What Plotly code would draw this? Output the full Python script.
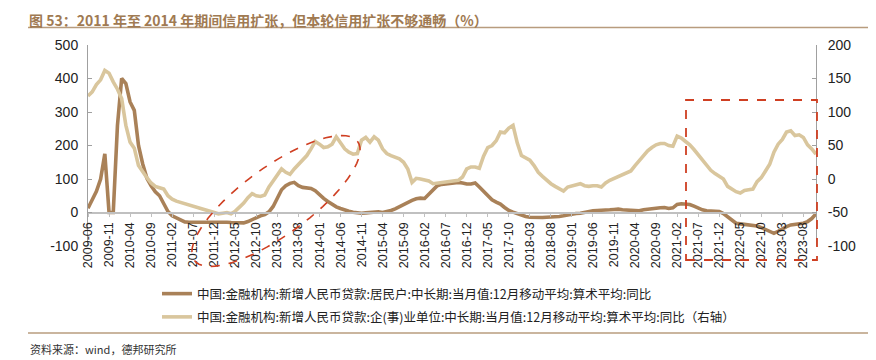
import math
import pandas as pd
import plotly.graph_objects as go

# ---------------- data ----------------
months = [p.strftime("%Y-%m") for p in pd.period_range("2009-06", "2023-11", freq="M")]

household = [
    13, 38, 63, 100, 175, 0, 0, 260, 400, 385,
    330, 305, 200, 145, 102, 80, 62, 50, 25, 3,
    -10, -17, -24, -28, -29, -29, -29, -29, -28, -27,
    -27, -27, -28, -29, -30, -31, -32, -31, -27, -21,
    -15, -10, -6, 2, 18, 45, 68, 80, 87, 90,
    80, 75, 73, 72, 65, 53, 42, 33, 24, 17,
    12, 7, 4, 1, -1, -2, -1, 0, 3, 2,
    0, 2, 6, 11, 18, 24, 30, 36, 41, 43,
    42, 55, 67, 80, 84, 86, 88, 89, 90, 88,
    85, 85, 88, 76, 63, 50, 38, 31, 25, 15,
    6, 1, -3, -9, -12, -14, -15, -15, -15, -14,
    -14, -13, -12, -10, -7, -4, -3, -2, 1, 4,
    5, 6, 6, 7, 8, 9, 10, 8, 7, 6,
    5, 5, 8, 10, 12, 13, 14, 15, 12, 14,
    24, 26, 26, 24, 19, 13, 8, 5, 4, 3,
    3, -3, -12, -24, -32, -34, -36, -38, -39, -40,
    -45, -50, -56, -62, -56, -48, -42, -37, -36, -34,
    -32, -27, -18, -4,
]

enterprise = [
    124, 130, 141, 148, 162, 158, 145, 134, 120, 80,
    55, 46, 20, 10, 2, -6, -11, -13, -15, -25,
    -30, -33, -35, -37, -38, -40, -43, -45, -47, -49,
    -51, -52, -51, -50, -52, -48, -42, -36, -28, -22,
    -25, -26, -24, -12, -3, 5, 15, 10, 7, 15,
    22, 28, 35, 45, 56, 52, 47, 48, 52, 63,
    55, 45, 40, 37, 38, 58, 62, 55, 63, 58,
    45, 38, 35, 32, 30, 25, 15, -5, 1, 0,
    -2, -3, -7, -6, -5, -4, -3, -3, -2, 3,
    15, 18, 18, 16, 34, 47, 50, 57, 70, 69,
    76, 80, 54, 35, 32, 28, 20, 10, 4, -2,
    -7, -11, -15, -18, -12, -10, -8, -7, -10, -11,
    -10, -10, -12, -6, -2, 1, 4, 7, 10, 12,
    20, 28, 34, 42, 47, 51, 53, 53, 50, 49,
    64, 61, 56, 51, 44, 36, 28, 19, 13, 8,
    4, 0, -11, -15, -19, -21, -17, -16, -15, -4,
    2, 12, 22, 40, 52, 59, 70, 72, 65, 66,
    62, 51, 45, 37,
]

tick_labels = months[::5]
left_ticks = [-100, 0, 100, 200, 300, 400, 500]
right_ticks = [-100, -50, 0, 50, 100, 150, 200]

name_household = "中国:金融机构:新增人民币贷款:居民户:中长期:当月值:12月移动平均:算术平均:同比"
name_enterprise = "中国:金融机构:新增人民币贷款:企(事)业单位:中长期:当月值:12月移动平均:算术平均:同比（右轴）"
title_text = "图 53：2011 年至 2014 年期间信用扩张，但本轮信用扩张不够通畅（%）"
source_text = "资料来源：wind，德邦研究所"

# ---------------- layout geometry ----------------
# the page body adds an 8px offset, so the figure is drawn 8px smaller and shifted
OFF = 8
W, H = 876 - OFF, 360 - OFF
L, T = 88 - OFF, 45 - OFF
R = W - (816 - OFF)
B = H - (246 - OFF)
PW, PH = W - L - R, H - T - B


def px2paper(x, y):
    """reference-screen pixels -> paper coordinates"""
    x, y = x - OFF, y - OFF
    return (x - L) / PW, (H - B - y) / PH


DARK = "#a98158"
LIGHT = "#d9c69d"
RED = "#cf3f22"

fig = go.Figure()
fig.add_trace(go.Scatter(
    x=months, y=household, name=name_household, mode="lines",
    line=dict(color=DARK, width=3.6), legendgroup="a", yaxis="y",
))
fig.add_trace(go.Scatter(
    x=months, y=enterprise, name=name_enterprise, mode="lines",
    line=dict(color=LIGHT, width=3.6), legendgroup="b", yaxis="y2",
))

# red dashed tilted ellipse
cx, cy, a, b, th = 276, 201, 101, 34, math.radians(36)
pts = []
for i in range(73):
    t = 2 * math.pi * i / 72
    x = cx + a * math.cos(t) * math.cos(th) + b * math.sin(t) * math.sin(th)
    y = cy - a * math.cos(t) * math.sin(th) + b * math.sin(t) * math.cos(th)
    px, py = px2paper(x, y)
    pts.append(f"{px:.5f},{py:.5f}")
path = "M" + " L".join(pts) + " Z"

x0, y0 = px2paper(686, 100)
x1, y1 = px2paper(817, 260)
tl_x0, tl_y = px2paper(28, 27.5)
tl_x1, _ = px2paper(868, 27.5)
_, sl_y = px2paper(0, 333)

shapes = [
    dict(type="path", path=path, xref="paper", yref="paper",
         line=dict(color=RED, width=1.6, dash="dash")),
    dict(type="rect", x0=x0, x1=x1, y0=y1, y1=y0, xref="paper", yref="paper",
         line=dict(color=RED, width=1.8, dash="dash")),
    dict(type="line", x0=tl_x0, x1=tl_x1, y0=tl_y, y1=tl_y, xref="paper", yref="paper",
         line=dict(color="#b89c7e", width=1.5)),
    dict(type="line", x0=tl_x0, x1=tl_x1, y0=sl_y, y1=sl_y, xref="paper", yref="paper",
         line=dict(color="#b89c7e", width=1.5)),
]

sx, sy = px2paper(28, 349)
tx, ty = px2paper(28, 8.5)
annotations = [
    dict(text=source_text, x=sx, y=sy, xref="paper", yref="paper", xanchor="left",
         yanchor="middle", showarrow=False,
         font=dict(family="Noto Sans CJK SC", size=11, color="#333333")),
    dict(text="<b>" + title_text + "</b>", x=tx, y=ty, xref="paper", yref="paper",
         xanchor="left", yanchor="top", showarrow=False, borderpad=0,
         font=dict(family="Noto Sans CJK SC", size=14, color="#a07a52")),
]

axis_font = dict(family="Liberation Sans, Arial", size=14, color="#222222")
lx, ly = px2paper(157, 279)

fig.update_layout(
    width=W, height=H,
    margin=dict(l=L, r=R, t=T, b=B),
    paper_bgcolor="white", plot_bgcolor="white",
    showlegend=True,
    legend=dict(x=lx, y=ly, xanchor="left", yanchor="top", orientation="v",
                font=dict(family="Noto Sans CJK SC", size=12.5, color="#222222"),
                tracegroupgap=4, bgcolor="rgba(0,0,0,0)"),
    xaxis=dict(type="category", range=[0, len(months) - 1], anchor="free",
               position=100 / 600, showline=True, linecolor="#c0c0c0", linewidth=1.5,
               ticks="outside", ticklen=4, tickcolor="#c0c0c0",
               tickmode="array", tickvals=tick_labels, ticktext=tick_labels,
               tickangle=-90, tickfont=dict(family="Liberation Sans, Arial", size=12.5,
                                            color="#222222"),
               showgrid=False, zeroline=False),
    yaxis=dict(range=[-100, 500], tickmode="array", tickvals=left_ticks,
               ticktext=[str(v) for v in left_ticks],
               showline=True, linecolor="#a0a0a0",
               linewidth=1, ticks="inside", ticklen=4, tickcolor="#a0a0a0",
               tickfont=axis_font, showgrid=False, zeroline=False,
               ticklabelstandoff=6),
    yaxis2=dict(range=[-100, 200], tickmode="array", tickvals=right_ticks,
                ticktext=[str(v) for v in right_ticks],
                overlaying="y", side="right",
                showline=True, linecolor="#a0a0a0", linewidth=1, ticks="inside",
                ticklen=4, tickcolor="#a0a0a0", tickfont=axis_font,
                showgrid=False, zeroline=False, ticklabelstandoff=8),
    shapes=shapes,
    annotations=annotations,
)

fig.write_html("out.html")
